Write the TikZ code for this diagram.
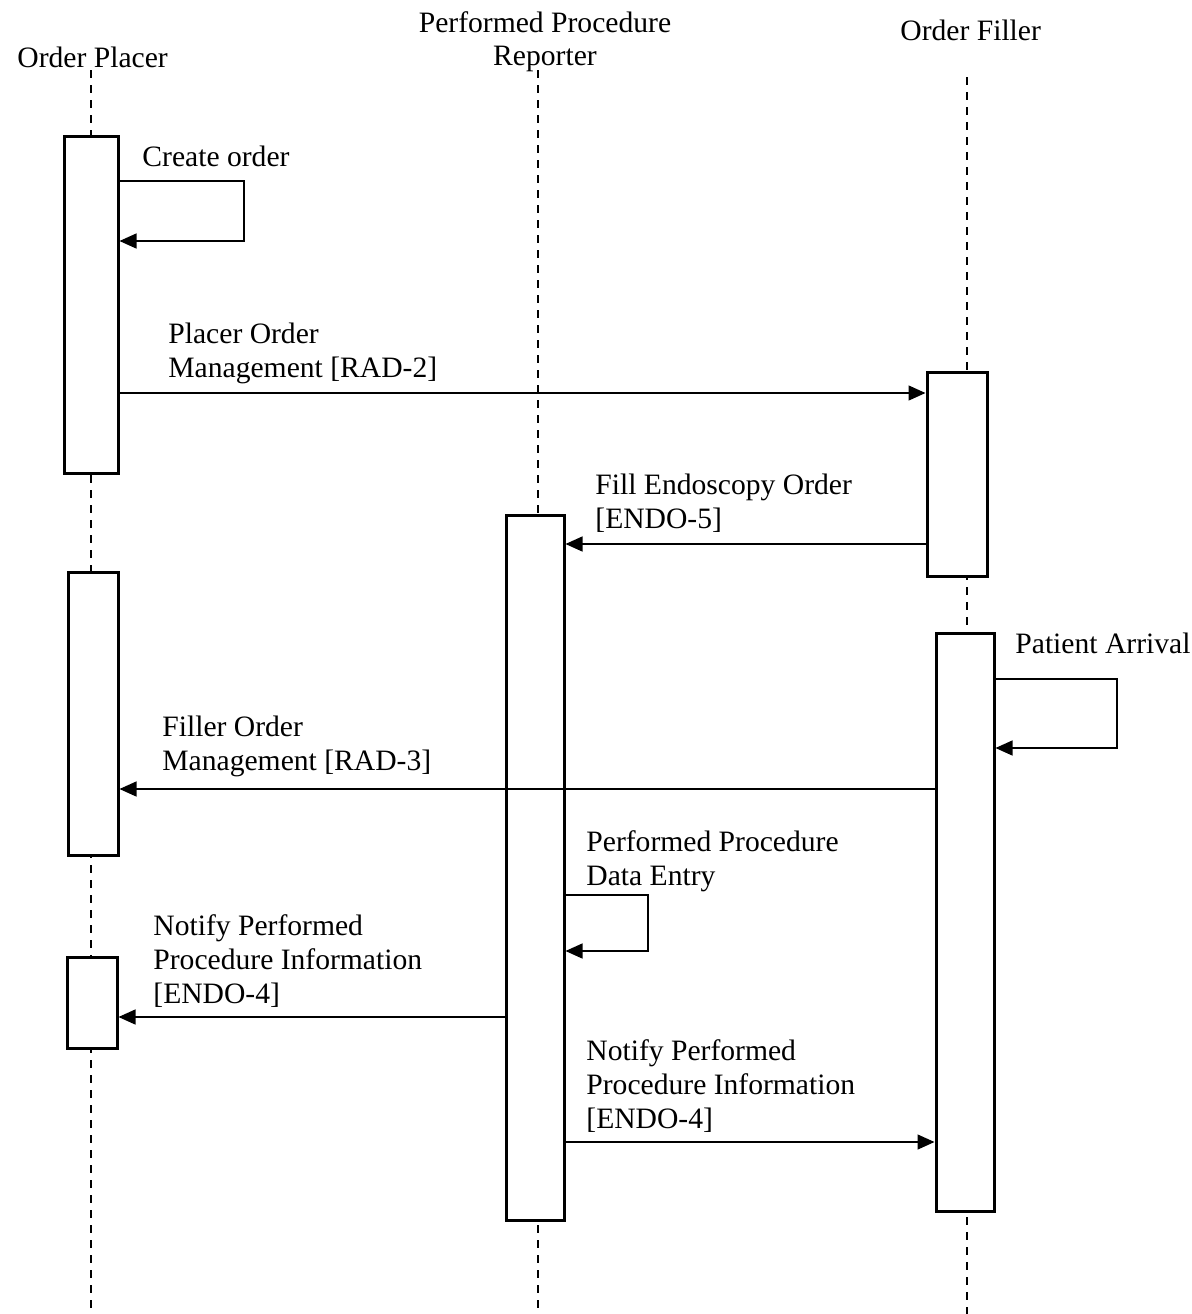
\documentclass[tikz,border=0pt]{standalone}
\usepackage{fontspec}
\setmainfont{Liberation Serif}
\usetikzlibrary{arrows.meta}
\begin{document}
\begin{tikzpicture}[x=0.5pt,y=-0.5pt,
  lifeline/.style={line width=0.6pt, dash pattern=on 4pt off 3.5pt},
  act/.style={draw, fill=white, line width=1.5pt, rectangle, inner sep=0pt},
  msg/.style={line width=0.7pt, -{Triangle[length=8.5pt,width=7.5pt]}},
  lbl/.style={anchor=base west, inner sep=0pt, align=left, font=\fontsize{14.8}{17}\selectfont},
  hdr/.style={inner sep=0pt, font=\fontsize{14.8}{16.5}\selectfont}]
\useasboundingbox (0,0) rectangle (1192,1314);
% headers
\node[hdr, anchor=base west] (hOP) at (17,67) {Order Placer};
\node[hdr, anchor=base, align=center] (hPPR) at (545,65) {Performed Procedure\\Reporter};
\node[hdr, anchor=base west] (hOF) at (900,40) {Order Filler};
% lifelines
\coordinate (lOPt) at (91,70);  \coordinate (lOPb) at (91,1314);
\coordinate (lPPRt) at (538,70); \coordinate (lPPRb) at (538,1314);
\coordinate (lOFt) at (967,77); \coordinate (lOFb) at (967,1314);
\draw[lifeline] (lOPt) -- (lOPb);
\draw[lifeline] (lPPRt) -- (lPPRb);
\draw[lifeline] (lOFt) -- (lOFb);
% activation boxes
\node[act, minimum width=27pt, minimum height=168.5pt] (op1) at (91,304.5) {};
\node[act, minimum width=25pt, minimum height=141.5pt] (op2) at (93,713.5) {};
\node[act, minimum width=25pt, minimum height=45.5pt] (op3) at (92,1002.5) {};
\node[act, minimum width=29pt, minimum height=352.5pt] (ppr) at (535,867.5) {};
\node[act, minimum width=30pt, minimum height=102pt] (of1) at (957,474) {};
\node[act, minimum width=29pt, minimum height=289pt] (of2) at (965,922) {};
% loop corners
\coordinate (c1a) at (244,181); \coordinate (c1b) at (244,241);
\coordinate (c2a) at (1117,679); \coordinate (c2b) at (1117,748);
\coordinate (c3a) at (648,895); \coordinate (c3b) at (648,951);
% messages
\draw[msg] (op1.east |- c1a) -- (c1a) -- (c1b) -- (op1.east |- c1b);
\node[lbl] (t1) at (142,166) {Create order};
\draw[msg] (op1.east |- 0,393) -- (of1.west |- 0,393);
\node[lbl] (t2) at (168,377) {Placer Order\\Management [RAD-2]};
\draw[msg] (of1.west |- 0,544) -- (ppr.east |- 0,544);
\node[lbl] (t3) at (595,528) {Fill Endoscopy Order\\{[ENDO-5]}};
\draw[msg] (of2.east |- c2a) -- (c2a) -- (c2b) -- (of2.east |- c2b);
\node[lbl] (t4) at (1015,653) {Patient Arrival};
\draw[msg] (of2.west |- 0,789) -- (op2.east |- 0,789);
\node[lbl] (t5) at (162,770) {Filler Order\\Management [RAD-3]};
\draw[msg] (ppr.east |- c3a) -- (c3a) -- (c3b) -- (ppr.east |- c3b);
\node[lbl] (t6) at (586,885) {Performed Procedure\\Data Entry};
\draw[msg] (ppr.west |- 0,1017) -- (op3.east |- 0,1017);
\node[lbl] (t7) at (153,1003) {Notify Performed\\Procedure Information\\{[ENDO-4]}};
\draw[msg] (ppr.east |- 0,1142) -- (of2.west |- 0,1142);
\node[lbl] (t8) at (586,1128) {Notify Performed\\Procedure Information\\{[ENDO-4]}};
\end{tikzpicture}
\end{document}
